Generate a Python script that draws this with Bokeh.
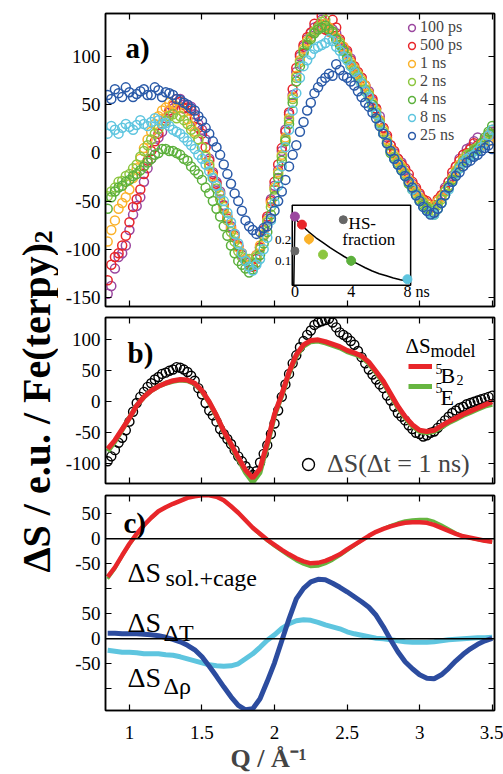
import numpy as np
from bokeh.plotting import figure
from bokeh.models import Range1d, FixedTicker, LinearAxis, Label, Legend, LegendItem, Span, Title
from bokeh.layouts import row, column
from bokeh.embed import file_html
from bokeh.resources import INLINE
from bokeh.core.properties import value

FONT = "Liberation Serif"

# ---------------- data ----------------
Q = [0.85, 0.90, 0.95, 1.00, 1.05, 1.10, 1.15, 1.20, 1.25, 1.30,
     1.35, 1.40, 1.45, 1.50, 1.55, 1.60, 1.65, 1.70, 1.75, 1.80,
     1.85, 1.90, 1.95, 2.00, 2.05, 2.10, 2.15, 2.20, 2.25, 2.30,
     2.35, 2.40, 2.45, 2.50, 2.55, 2.60, 2.65, 2.70, 2.75, 2.80,
     2.85, 2.90, 2.95, 3.00, 3.05, 3.10, 3.15, 3.20, 3.25, 3.30,
     3.35, 3.40, 3.45, 3.50]
Q2 = [0.875, 0.925, 0.975, 1.025, 1.075, 1.125, 1.175, 1.225, 1.275, 1.325,
      1.375, 1.425, 1.475, 1.525, 1.575, 1.625, 1.675, 1.725, 1.775, 1.825,
      1.875, 1.925, 1.975, 2.025, 2.075, 2.125, 2.175, 2.225, 2.275, 2.325,
      2.375, 2.425, 2.475, 2.525, 2.575, 2.625, 2.675, 2.725, 2.775, 2.825,
      2.875, 2.925, 2.975, 3.025, 3.075, 3.125, 3.175, 3.225, 3.275, 3.325,
      3.375, 3.425, 3.475]

A_100PS = [-146, -120, -104, -80, -55, -30, -6, 16, 33, 46,
           56, 50, 40, 24, -6, -30, -54, -76, -96, -110,
           -116, -98, -68, -34, 2, 40, 84, 110, 124, 130,
           134, 128, 116, 104, 88, 78, 64, 46, 26, 8,
           -6, -18, -32, -44, -52, -55, -44, -30, -14, -2,
           6, 16, 14, 22]
A_100PS_2 = [-138, -108, -96, -64, -46, -16, 6, 22, 42, 52,
             50, 48, 30, 14, -20, -40, -66, -84, -106, -114,
             -106, -86, -48, -18, 24, 60, 100, 118, 130, 138,
             128, 124, 108, 98, 82, 70, 54, 38, 16, 0,
             -10, -26, -38, -50, -56, -50, -36, -24, -6, 4,
             12, 10, 18]
A_500PS = [-132, -108, -96, -72, -48, -22, 2, 20, 36, 49,
           53, 47, 36, 20, -8, -32, -55, -78, -97, -112,
           -118, -98, -66, -30, 5, 42, 88, 112, 125, 132,
           128, 138, 118, 106, 90, 78, 62, 46, 26, 8,
           -6, -16, -30, -42, -50, -54, -44, -30, -14, -2,
           4, 8, 14, 20]
A_500PS_2 = [-116, -104, -86, -56, -38, -8, 12, 30, 44, 56,
             46, 44, 26, 6, -22, -42, -68, -86, -104, -116,
             -110, -80, -50, -12, 22, 66, 102, 120, 134, 142,
             126, 130, 110, 96, 84, 70, 56, 34, 18, 2,
             -12, -22, -36, -48, -56, -48, -38, -20, -8, 0,
             10, 6, 18]
A_1NS = [-92, -70, -52, -38, -16, 5, 22, 38, 47, 51,
         47, 35, 22, 6, -14, -34, -56, -78, -98, -110,
         -114, -96, -70, -36, -2, 36, 80, 108, 120, 128,
         134, 126, 115, 102, 88, 76, 62, 44, 24, 4,
         -8, -20, -34, -46, -53, -55, -46, -34, -18, -6,
         0, 4, 10, 18]
A_1NS_2 = [-80, -58, -46, -26, -6, 14, 30, 44, 52, 46,
           42, 28, 14, -2, -24, -44, -66, -88, -104, -116,
           -106, -84, -52, -20, 16, 58, 96, 116, 126, 132,
           130, 120, 110, 94, 82, 70, 52, 34, 14, -2,
           -14, -28, -40, -50, -58, -50, -40, -26, -12, -2,
           2, 8, 12]
A_2NS = [-45, -36, -29, -22, -12, 2, 14, 25, 33, 40,
         38, 30, 20, 6, -12, -37, -59, -82, -102, -112,
         -114, -100, -72, -38, -4, 34, 78, 106, 120, 130,
         138, 124, 114, 100, 86, 74, 60, 42, 22, 2,
         -10, -22, -36, -48, -56, -60, -48, -34, -20, -8,
         0, 6, 14, 24]
A_2NS_2 = [-40, -30, -24, -16, -4, 8, 20, 30, 38, 36,
           34, 24, 14, -4, -26, -48, -70, -92, -108, -110,
           -108, -86, -56, -22, 14, 56, 94, 114, 126, 136,
           128, 118, 106, 92, 80, 66, 50, 32, 12, -4,
           -16, -30, -42, -52, -58, -54, -40, -28, -14, -2,
           4, 10, 20]
A_4NS = [-58, -40, -34, -28, -22, -14, -6, 0, 4, 2,
         -2, -8, -18, -28, -42, -58, -76, -96, -112, -120,
         -121, -106, -82, -45, -8, 30, 74, 104, 118, 128,
         132, 126, 112, 98, 84, 72, 58, 40, 20, 0,
         -12, -24, -38, -50, -58, -64, -52, -36, -22, -10,
         -2, 4, 16, 28]
A_4NS_2 = [-46, -36, -30, -24, -18, -10, -2, 4, 2, 0,
           -6, -14, -22, -36, -50, -66, -86, -104, -116, -124,
           -114, -94, -64, -26, 12, 52, 90, 112, 124, 130,
           128, 118, 106, 90, 78, 64, 50, 30, 10, -6,
           -18, -32, -44, -54, -62, -58, -44, -28, -16, -6,
           2, 10, 22]
A_8NS = [20, 24, 26, 27, 29, 30, 32, 34, 31, 24,
         20, 12, 4, -6, -19, -34, -50, -72, -94, -112,
         -122, -110, -88, -52, -14, 24, 62, 90, 102, 110,
         114, 116, 106, 96, 84, 72, 58, 40, 20, 2,
         -12, -24, -38, -50, -60, -64, -52, -38, -22, -10,
         -4, 2, 10, 24]
A_8NS_2 = [28, 20, 30, 24, 34, 28, 36, 30, 28, 22,
           16, 8, -2, -12, -26, -42, -62, -84, -104, -118,
           -116, -100, -70, -34, 6, 44, 78, 96, 108, 112,
           118, 110, 100, 90, 78, 64, 48, 30, 10, -6,
           -18, -30, -44, -56, -62, -58, -44, -30, -16, -6,
           -2, 6, 18]
A_25NS = [60, 66, 58, 63, 61, 66, 60, 65, 63, 60,
          55, 50, 44, 33, 20, 6, -12, -32, -50, -70,
          -80, -82, -76, -60, -40, -14, 8, 32, 52, 68,
          78, 80, 86, 78, 70, 58, 48, 36, 20, 2,
          -12, -24, -36, -50, -60, -62, -52, -36, -24, -14,
          -8, -2, 5, 4]
A_25NS_2 = [56, 62, 68, 58, 64, 60, 68, 58, 62, 56,
            52, 46, 38, 26, 12, -2, -22, -42, -60, -76,
            -84, -78, -68, -50, -28, -2, 22, 44, 62, 74,
            82, 92, 80, 74, 64, 52, 42, 28, 10, -6,
            -18, -30, -44, -56, -64, -58, -44, -30, -20, -10,
            -4, 2, 8]

SERIES_LABELS = ["100 ps", "500 ps", "1 ns", "2 ns", "4 ns", "8 ns", "25 ns"]
SERIES_COLORS = ["#9b479f", "#e8262a", "#fbb22a", "#8cc63f", "#5cb03c", "#5ec5df", "#2a5aa8"]
SERIES_DATA = [(A_100PS, A_100PS_2), (A_500PS, A_500PS_2), (A_1NS, A_1NS_2), (A_2NS, A_2NS_2),
               (A_4NS, A_4NS_2), (A_8NS, A_8NS_2), (A_25NS, A_25NS_2)]

# inset: HS fraction vs delay (ns)
HS_T = [0, 0.5, 1, 2, 4, 8]
HS_Y = [0.309, 0.271, 0.203, 0.130, 0.101, 0.014]
HS_ERR = [0.02, 0.02, 0.025, 0.02, 0.022, 0.01]
HS_COLORS = ["#9b479f", "#e8262a", "#fbb22a", "#8cc63f", "#5cb03c", "#5ec5df"]
HS_GRAY_T = [0]
HS_GRAY_Y = [0.147]
FIT_T = [-0.08, 0.0, 0.5, 1.0, 1.5, 2.0, 2.5, 3.0, 3.5, 4.0, 4.5, 5.0, 5.5, 6.0, 6.5, 7.0, 7.5, 8.0]
FIT_Y = [-0.014, 0.301, 0.266, 0.236, 0.209, 0.186, 0.163, 0.142, 0.121, 0.102, 0.085,
         0.068, 0.053, 0.040, 0.030, 0.020, 0.012, 0.006]

# panel b
B_DATA_1NS = [-96, -78, -58, -32, -2, 16, 30, 40, 47, 52,
              55, 48, 34, 12, -14, -32, -52, -68, -88, -104,
              -118, -98, -70, -35, 8, 45, 75, 98, 115, 128,
              132, 128, 112, 104, 92, 72, 52, 36, 22, 2,
              -18, -30, -44, -52, -54, -48, -36, -24, -14, -8,
              -2, 2, 6, 10]
B_DATA_1NS_2 = [-88, -66, -46, -16, 8, 24, 36, 45, 50, 56,
                52, 42, 22, -2, -22, -44, -60, -78, -96, -112,
                -112, -84, -52, -14, 28, 62, 88, 108, 124, 130,
                134, 120, 108, 98, 82, 62, 44, 28, 10, -8,
                -24, -38, -50, -56, -50, -42, -30, -18, -10, -4,
                0, 4, 8]
B_MODEL_5B2 = [-76, -62, -44, -26, -6, 8, 18, 25, 30, 34,
               36, 35, 30, 18, 0, -22, -47, -68, -90, -110,
               -123, -108, -66, -20, 12, 48, 76, 92, 99, 100,
               97, 93, 89, 83, 79, 74, 64, 49, 33, 13,
               -7, -24, -37, -46, -48, -46, -39, -32, -26, -20,
               -15, -10, -5, 0]
B_MODEL_5E = [-80, -64, -45, -26, -6, 8, 18, 25, 30, 33,
              35, 34, 29, 17, -1, -23, -48, -70, -92, -114,
              -130, -114, -70, -22, 10, 46, 74, 90, 97, 98,
              95, 91, 87, 81, 77, 72, 62, 47, 31, 11,
              -9, -26, -39, -48, -50, -48, -41, -34, -28, -22,
              -17, -12, -7, -4]

# panel c (upper pair of curves is drawn shifted by C_OFFSET)
C_OFFSET = 200
C_SOL_5B2 = [-76, -57, -33, -10, 10, 27, 42, 55, 63, 70,
             76, 82, 85, 87, 87, 84, 77, 65, 52, 37,
             22, 10, -2, -12, -22, -31, -39, -45, -49, -48,
             -44, -38, -31, -21, -12, -3, 6, 14, 20, 25,
             29, 32, 33, 33, 32, 28, 22, 16, 10, 5,
             2, -1, -4, -6]
C_SOL_5E = [-80, -60, -35, -12, 8, 26, 41, 54, 63, 70,
            76, 82, 85, 87, 87, 84, 77, 65, 52, 37,
            21, 8, -4, -15, -25, -35, -44, -51, -56, -55,
            -50, -43, -34, -24, -14, -4, 5, 14, 21, 27,
            32, 36, 38, 39, 39, 35, 28, 20, 12, 5,
            1, -2, -5, -7]
C_DT = [11, 11, 10, 10, 10, 9, 8, 6, 3, -1,
        -6, -13, -22, -36, -55, -75, -96, -116, -133, -142,
        -140, -120, -85, -48, -4, 40, 80, 101, 114, 119,
        118, 111, 103, 94, 84, 74, 63, 47, 24, -2,
        -26, -46, -60, -72, -79, -80, -72, -59, -44, -31,
        -20, -11, -4, 1]
C_DRHO = [-23, -25, -27, -27, -28, -30, -30, -30, -32, -33,
          -36, -40, -44, -48, -52, -54, -55, -54, -50, -40,
          -30, -17, -3, 8, 21, 30, 36, 38, 37, 33,
          28, 24, 20, 14, 10, 7, 4, 1, 0, -2,
          -4, -6, -7, -7, -7, -6, -4, -2, -1, 0,
          1, 2, 2, 3]

X_TICKS = [1, 1.5, 2, 2.5, 3, 3.5]
X_LABELS = {1: "1", 1.5: "1.5", 2: "2", 2.5: "2.5", 3: "3", 3.5: "3.5"}
A_TICKS = [-150, -100, -50, 0, 50, 100]
B_TICKS = [-100, -50, 0, 50, 100]
C_TICKS = [-50, 0, 50, 150, 200, 250]
C_MINOR = [-100, 100]
C_LABELS = {-50: "-50", 0: "0", 50: "50", 150: "-50", 200: "0", 250: "50"}

RED = "#e8262a"
GREEN = "#66b540"
DBLUE = "#2c4c9f"
LBLUE = "#5ec5df"


def make_fig(height, yr, top, bottom):
    p = figure(width=445, height=height, x_range=Range1d(0.835, 3.516), y_range=Range1d(*yr),
               output_backend="svg", toolbar_location=None,
               min_border_left=47, min_border_right=9, min_border_top=top, min_border_bottom=bottom)
    p.grid.visible = False
    p.outline_line_color = "black"
    p.outline_line_width = 1.5
    return p


def style_axes(p, yticks, ylabels, show_x, yminor=()):
    p.add_layout(LinearAxis(), "above")
    p.add_layout(LinearAxis(), "right")
    all_y = sorted(list(yticks) + list(yminor))
    p.left[0].ticker = FixedTicker(ticks=list(yticks), minor_ticks=list(yminor))
    p.right[0].ticker = FixedTicker(ticks=[], minor_ticks=all_y)
    p.above[0].ticker = FixedTicker(ticks=[], minor_ticks=X_TICKS)
    if show_x:
        p.below[0].ticker = FixedTicker(ticks=X_TICKS)
    else:
        p.below[0].ticker = FixedTicker(ticks=[], minor_ticks=X_TICKS)
    for ax in p.axis:
        ax.major_tick_in = 6
        ax.major_tick_out = 0
        ax.minor_tick_in = 6
        ax.minor_tick_out = 0
        ax.minor_tick_line_color = "black"
        ax.minor_tick_line_width = 1.2
        ax.axis_line_color = "black"
        ax.axis_line_width = 1.5
        ax.major_tick_line_color = "black"
        ax.major_tick_line_width = 1.2
        ax.major_label_text_font = FONT
        ax.major_label_text_font_size = "19px"
        ax.major_label_text_color = "black"
        ax.major_label_standoff = 5
    p.left[0].major_label_overrides = ylabels
    if show_x:
        p.below[0].major_label_overrides = X_LABELS
        p.below[0].major_label_standoff = 15


def lab(p, x, y, text, size, bold=False, angle=0.0):
    p.add_layout(Label(x=x, y=y, x_units="screen", y_units="screen", text=text,
                       text_font=FONT, text_font_size=size,
                       text_font_style="bold" if bold else "normal",
                       text_baseline="alphabetic", text_align="left",
                       angle=angle, text_color="black"))


# ---------------- panel a ----------------
pa = make_fig(311, (-159.3, 144.6), 13, 5)
style_axes(pa, A_TICKS, {t: str(t) for t in A_TICKS}, False)
items = []
for lbl, col, (arr1, arr2) in zip(SERIES_LABELS, SERIES_COLORS, SERIES_DATA):
    r = pa.scatter(Q + Q2, arr1 + arr2, marker="circle", size=9, fill_color=None,
                   line_color=col, line_width=1.5)
    items.append(LegendItem(label=lbl, renderers=[r]))
leg_a = Legend(items=items, location=(298, 162), label_text_font=FONT, label_text_font_size="16px",
               glyph_width=17, glyph_height=17, label_height=17, label_standoff=0, spacing=0,
               padding=0, margin=0, border_line_color=None, background_fill_alpha=0)
pa.add_layout(leg_a)
lab(pa, 20, 259, "a)", "29px", bold=True)

# inset (own coordinate system mapped into a box of panel a)
sub = pa.subplot(x_source=Range1d(-0.19, 8.23), y_source=Range1d(-0.014, 0.362),
                 x_target=Range1d(2.122, 2.938), y_target=Range1d(-137.2, -54.3))
sub.quad(left=[-0.19], right=[8.23], bottom=[-0.014], top=[0.362],
         fill_color="white", line_color="black", line_width=1.5)
sub.line(FIT_T, FIT_Y, line_color="black", line_width=1.5)
sub.segment(x0=HS_T, y0=[y - e for y, e in zip(HS_Y, HS_ERR)], x1=HS_T,
            y1=[y + e for y, e in zip(HS_Y, HS_ERR)], line_color=HS_COLORS, line_width=2)
sub.scatter(HS_T, HS_Y, marker="circle", size=9, fill_color=HS_COLORS, line_color=HS_COLORS)
sub.scatter(HS_GRAY_T, HS_GRAY_Y, marker="circle", size=8, fill_color="#666666", line_color="#666666")
sub.scatter([3.44], [0.294], marker="circle", size=8, fill_color="#666666", line_color="#666666")
sub.text(x=[3.82], y=[0.276], text=["HS-"], text_font=value(FONT), text_font_size="17px",
         text_baseline="alphabetic", text_align="left")
sub.text(x=[3.37], y=[0.200], text=["fraction"], text_font=value(FONT), text_font_size="17px",
         text_baseline="alphabetic", text_align="left")
sub.text(x=[0, 4], y=[-0.045, -0.045], text=["0", "4"], text_font=value(FONT), text_font_size="16px",
         text_baseline="middle", text_align="center")
sub.text(x=[8], y=[-0.045], text=["8 ns"], text_font=value(FONT), text_font_size="16px",
         text_baseline="middle", text_align="left", x_offset=-4)
sub.text(x=[-0.19, -0.19], y=[0.2, 0.1], text=["0.2", "0.1"], text_font=value(FONT),
         text_font_size="13px", text_baseline="middle", text_align="right", x_offset=-1)

# ---------------- panel b ----------------
pb = make_fig(178, (-131.8, 136.0), 6, 6)
style_axes(pb, B_TICKS, {t: str(t) for t in B_TICKS}, False)
rb_data = pb.scatter(Q + Q2, B_DATA_1NS + B_DATA_1NS_2, marker="circle", size=9, fill_color=None,
                     line_color="black", line_width=1.4)
rb_e = pb.line(Q, B_MODEL_5E, line_color=GREEN, line_width=5)
rb_b2 = pb.line(Q, B_MODEL_5B2, line_color=RED, line_width=5)
leg_b = Legend(items=[LegendItem(label=" ", renderers=[rb_b2]), LegendItem(label=" ", renderers=[rb_e])],
               location=(303, 87), glyph_width=24, glyph_height=20, label_height=20, label_standoff=0,
               spacing=0, padding=0, margin=0, border_line_color=None, background_fill_alpha=0,
               label_text_font=FONT, label_text_font_size="8px")
pb.add_layout(leg_b)
leg_b2 = Legend(items=[LegendItem(label="ΔS(Δt = 1 ns)", renderers=[rb_data])],
                location=(188, 4), glyph_width=30, glyph_height=30, label_height=30, label_standoff=4,
                spacing=0, padding=0, margin=0, border_line_color=None, background_fill_alpha=0,
                label_text_font=FONT, label_text_font_size="26px")
pb.add_layout(leg_b2)
lab(pb, 22, 131, "b)", "29px", bold=True)
lab(pb, 300, 138, "ΔS", "21px")
lab(pb, 325, 133, "model", "18px")
lab(pb, 330, 115, "5", "14px")
lab(pb, 335, 108, "B", "22px")
lab(pb, 351, 104, "2", "14px")
lab(pb, 330, 96, "5", "14px")
lab(pb, 335, 86, "E", "22px")

# ---------------- panel c ----------------
pc = make_fig(285, (-143.4, 286.6), 6, 64)
style_axes(pc, C_TICKS, C_LABELS, True, C_MINOR)
pc.add_layout(Span(location=0, dimension="width", line_color="black", line_width=1.5))
pc.add_layout(Span(location=C_OFFSET, dimension="width", line_color="black", line_width=1.5))
pc.line(Q, [v + C_OFFSET for v in C_SOL_5E], line_color=GREEN, line_width=3)
pc.line(Q, [v + C_OFFSET for v in C_SOL_5B2], line_color=RED, line_width=4.5)
pc.line(Q, C_DRHO, line_color=LBLUE, line_width=5)
pc.line(Q, C_DT, line_color=DBLUE, line_width=5)
lab(pc, 18, 188, "c)", "29px", bold=True)
lab(pc, 22, 138, "ΔS", "28px")
lab(pc, 60, 133, "sol.+cage", "24px")
lab(pc, 22, 88, "ΔS", "28px")
lab(pc, 58, 78, "ΔT", "24px")
lab(pc, 22, 33, "ΔS", "28px")
lab(pc, 58, 25, "Δρ", "24px")
pc.add_layout(Title(text="Q / Å⁻¹", align="left", offset=125, standoff=0,
                    text_font=FONT, text_font_size="26px", text_font_style="bold"), "below")

# ---------------- y label ----------------
pl = figure(width=58, height=774, x_range=Range1d(0, 58), y_range=Range1d(0, 774),
            output_backend="svg", toolbar_location=None, min_border=0,
            x_axis_type=None, y_axis_type=None)
pl.outline_line_color = None
lab(pl, 36, 202, "ΔS / e.u. / Fe(terpy)", "40px", bold=True, angle=np.pi / 2)
lab(pl, 43, 531, "2", "26px", bold=True, angle=np.pi / 2)

layout = row(pl, column(pa, pb, pc))
open("out.html", "w").write(file_html(layout, INLINE))
